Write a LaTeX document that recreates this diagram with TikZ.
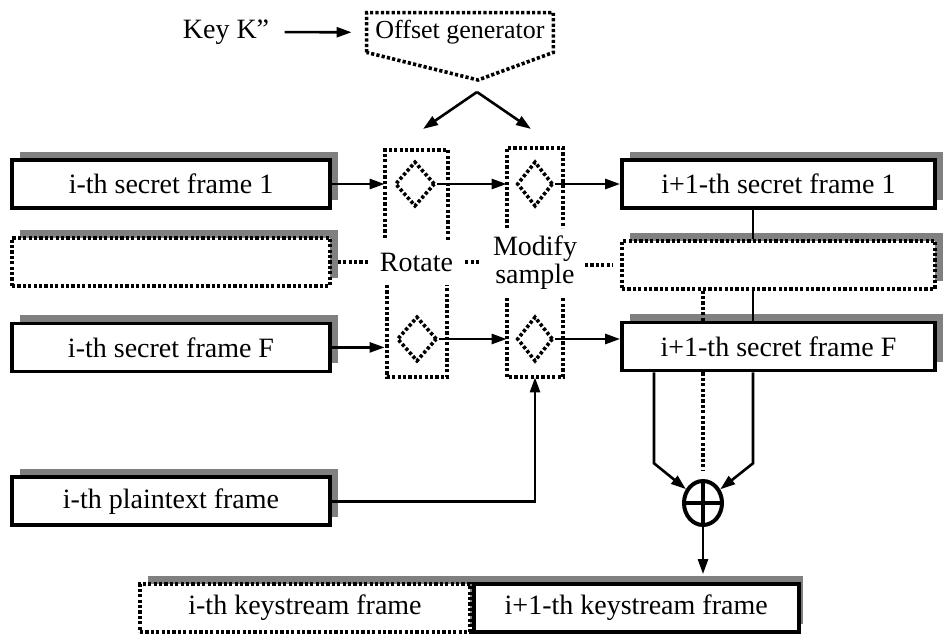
\documentclass[tikz,border=0pt]{standalone}
\usepackage{fontspec}
\setmainfont{Liberation Serif}
\usetikzlibrary{positioning,arrows.meta,calc,shadows,shapes.geometric}

\begin{document}
\begin{tikzpicture}[x=0.5pt, y=-0.5pt, font=\fontsize{14}{16}\selectfont,
          >={Triangle[length=7.5pt, width=5pt]},
          dots/.style={line width=1.8pt, dash pattern=on 1.6pt off 1.1pt},
          wire/.style={line width=1.3pt},
          arr/.style={wire, ->},
          box/.style={draw, line width=1.9pt, fill=white, minimum height=24pt, inner sep=0pt},
          frame/.style={box, drop shadow={shadow xshift=4pt, shadow yshift=4pt,
                        fill=black!50, opacity=1}},
          column/.style={minimum height=114.5pt, inner sep=0pt},
          gate/.style={diamond, draw, dots, minimum height=22.5pt, inner sep=0pt}]
        \useasboundingbox (0,0) rectangle (943,637);

        \node[inner sep=0pt] (key) at (226,32) {Key K''};
        \node[minimum width=93pt, minimum height=19.5pt, inner sep=0pt,
              font=\fontsize{13}{15}\selectfont] (gen) at (460,32.5) {Offset generator};
        \coordinate (vtip) at (478,80);
        \draw[dots] (gen.south west) -- (gen.north west) -- (gen.north east) -- (gen.south east) -- (vtip) -- cycle;
        \draw[arr, shorten <=7.5pt, shorten >=7.5pt] (key) -- (gen);

        \node[frame, minimum width=159pt]               (lsf1)   at (171,184) {i-th secret frame 1};
        \node[frame, dots, minimum width=159pt, below=13pt of lsf1] (ldash) {};
        \node[frame, minimum width=159pt, below=17pt of ldash] (lsfF) {i-th secret frame F};
        \node[frame, minimum width=159pt, below=51pt of lsfF]  (lplain) {i-th plaintext frame};

        \node[frame, minimum width=156.5pt]             (rsf1)   at (778.5,184) {i+1-th secret frame 1};
        \node[frame, dots, minimum width=156.5pt, below=14.5pt of rsf1] (rdash) {};
        \node[frame, minimum width=156.5pt, below=15pt of rdash] (rsfF) {i+1-th secret frame F};

        \node[column, minimum width=31.5pt] (rotcol) at (416.5,262.5) {};
        \node[column, minimum width=28pt]   (modcol) at (535,262.5) {};
        \node (rot) at (rotcol) {Rotate};
        \node[align=center, font=\fontsize{14}{14}\selectfont] (mod) at (modcol) {Modify\\sample};
        \draw[dots] (385,238) |- (448,150) -- (448,240);
        \draw[dots] (387,285) |- (447,377) -- (447,285);
        \draw[dots] (507,228) |- (563,148) -- (563,228);
        \draw[dots] (507,298) |- (563,377) -- (563,298);

        \node[gate, minimum width=20pt] (d11) at (415,184) {};
        \node[gate, minimum width=18pt] (d12) at (535,184) {};
        \node[gate, minimum width=20pt] (d21) at (417,339) {};
        \node[gate, minimum width=18pt] (d22) at (535,339) {};

        \coordinate (fork) at (477,92);
        \coordinate (toR) at (423,129);
        \coordinate (toM) at (531,129);
        \draw[arr] (fork) -- (toR);
        \draw[arr] (fork) -- (toM);

        \draw[arr] (lsf1.east) -- (lsf1.east -| rotcol.west);
        \draw[arr] (d11.east) -- (d11.east -| modcol.west);
        \draw[arr] (d12.east) -- (d12.east -| rsf1.west);
        \draw[arr] (lsfF.east) -- (lsfF.east -| rotcol.west);
        \draw[arr] (d21.east) -- (d21.east -| modcol.west);
        \draw[arr] (d22.east) -- (d22.east -| rsfF.west);
        \draw[arr] (lplain.east) -| (modcol.south);

        \draw[dots, shorten <=3pt, shorten >=2pt] (ldash.east) -- (ldash.east -| rot.west);
        \draw[dots, shorten <=2.5pt, shorten >=2.5pt] (ldash.east -| rot.east) -- (ldash.east -| mod.west);
        \draw[dots, shorten <=0.5pt, shorten >=3.5pt] (rdash.west -| mod.east) -- (rdash.west);

        \node[ellipse, draw, line width=2pt, minimum width=19pt, minimum height=22pt, inner sep=0pt] (xor) at (703,503) {};
        \draw[line width=1.6pt] (xor.north) -- (xor.south) (xor.west) -- (xor.east);

        \coordinate (mid) at (753,0);
        \coordinate (sl) at (654,0);
        \draw[wire] (rsf1.south -| mid) -- (rdash.north -| mid);
        \draw[wire] (rdash.south -| mid) -- (rsfF.north -| mid);
        \draw[dots] (rdash.south -| xor) -- (rsfF.north -| xor);
        \draw[arr] (rsfF.south -| sl) -- ++(0,91) -- (xor);
        \draw[arr] (rsfF.south -| mid) -- ++(0,91) -- (xor);
        \draw[dots, shorten >=4.5pt] (rsfF.south -| xor) -- (xor.north);

        \fill[black!50] (148,576) rectangle (803,624);
        \node[box, dots, minimum width=165pt] (ksold) at (305,608) {i-th keystream frame};
        \node[box, minimum width=162.5pt, right=0pt of ksold] (ksnew) {i+1-th keystream frame};
        \draw[arr, shorten >=4pt] (xor) -- (xor |- ksnew.north);
      \end{tikzpicture}
\end{document}
